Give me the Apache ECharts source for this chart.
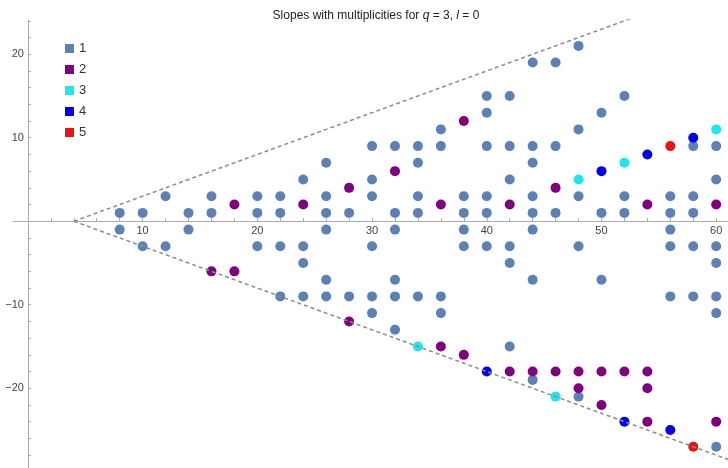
<!DOCTYPE html>
<html><head><meta charset="utf-8">
<script src="https://cdn.jsdelivr.net/npm/echarts@6/dist/echarts.min.js"></script>
<style>html,body{margin:0;padding:0;background:#fff}#c{width:728px;height:468px}</style>
</head><body><div id="c"></div>
<script>
// multiplicity 1
const mult1 = [
  [8,1],[8,-1],[10,1],[10,-3],[12,3],[12,-3],[14,1],[14,-1],[16,3],[16,1],
  [20,3],[20,1],[20,-3],[22,3],[22,1],[22,-3],[22,-9],
  [24,5],[24,-3],[24,-5],[24,-9],
  [26,7],[26,3],[26,1],[26,-1],[26,-7],[26,-9],
  [28,1],[28,-9],
  [30,9],[30,5],[30,3],[30,-3],[30,-9],[30,-11],
  [32,9],[32,1],[32,-1],[32,-7],[32,-9],[32,-13],
  [34,9],[34,7],[34,3],[34,1],[34,-9],
  [36,11],[36,9],[36,-9],[36,-11],
  [38,3],[38,1],[38,-1],[38,-3],
  [40,15],[40,13],[40,9],[40,3],[40,1],[40,-3],
  [42,15],[42,9],[42,5],[42,-3],[42,-5],[42,-15],
  [44,19],[44,9],[44,7],[44,3],[44,1],[44,-1],[44,-7],[44,-19],
  [46,19],[46,9],[46,1],
  [48,21],[48,11],[48,3],[48,-3],[48,-21],
  [50,13],[50,1],[50,-7],
  [52,15],[52,3],[52,1],
  [56,3],[56,1],[56,-1],[56,-3],[56,-9],
  [58,9],[58,3],[58,1],[58,-3],[58,-9],
  [60,9],[60,5],[60,-3],[60,-5],[60,-9],[60,-11],[60,-27]
];
// multiplicity 2
const mult2 = [
  [16,-6],[18,2],[18,-6],[24,2],[28,4],[28,-12],[32,6],[36,2],[36,-15],
  [38,12],[38,-16],[42,2],[42,-18],[44,-18],[46,4],[46,-18],[48,-18],[48,-20],
  [50,-18],[50,-22],[52,-18],[54,2],[54,-18],[54,-20],[54,-24],[60,2],[60,-24]
];
// multiplicity 3
const mult3 = [[34,-15],[46,-21],[48,5],[52,7],[60,11]];
// multiplicity 4
const mult4 = [[40,-18],[50,6],[52,-24],[54,8],[56,-25],[58,10]];
// multiplicity 5
const mult5 = [[56,9],[58,-27]];

const seriesNames = ['1','2','3','4','5'];
const seriesColors = ['#5e81b5','#800080','#1ee6ee','#0000ee','#ee1111'];
const xTickLabels = [10,20,30,40,50,60];
const yTickLabels = [-20,-10,10,20];
const xMinorTicks = [2,4,6,8,10,12,14,16,18,20,22,24,26,28,30,32,34,36,38,40,42,44,46,48,50,52,54,56,58,60];
const yMinorTicks = [-28,-26,-24,-22,-20,-18,-16,-14,-12,-10,-8,-6,-4,-2,2,4,6,8,10,12,14,16,18,20,22,24];
// boundary lines y = ±(x - 4)/2
const boundaryVertex = [4,0];
const boundaryEndX = 62;
const boundarySlope = 0.5;

const allSets = [mult1, mult2, mult3, mult4, mult5];
const upper = [boundaryVertex, [boundaryEndX, boundarySlope*(boundaryEndX-boundaryVertex[0])]];
const lower = [boundaryVertex, [boundaryEndX, -boundarySlope*(boundaryEndX-boundaryVertex[0])]];

// plot geometry
const G = {left:13, top:20, width:715, height:448};
const X = {min:-1.3, max:61.03};
const Y = {min:-29.55, max:24.1};
// shift axes so they cross at the origin (whole axis incl. labels)
const xAxisOffset = -(G.height * (0 - Y.min) / (Y.max - Y.min));
const yAxisOffset = -(G.width * (0 - X.min) / (X.max - X.min));
const minusFmt = v => String(v).replace('-', '\u2212');

const chart = echarts.init(document.getElementById('c'), null, {renderer:'canvas'});
const series = allSets.map((d,i)=>({
  name: seriesNames[i], type:'scatter', data:d, symbolSize:10,
  itemStyle:{color:seriesColors[i], opacity:1}, z:2
}));
[upper, lower].forEach(d=>series.push({
  name:'bound', type:'line', data:d, symbol:'none', silent:true, z:3,
  lineStyle:{color:'#8c8c8c', width:1.5, type:[4,3]}
}));

chart.setOption({
  animation:false,
  backgroundColor:'#fff',
  title:{
    left:371, top:5, textAlign:'center',
    text:'{a|Slopes with multiplicities for }{i|q}{a| = 3, }{i|l}{a| = 0}',
    textStyle:{fontWeight:'normal', rich:{
      a:{fontFamily:'Liberation Sans', fontSize:12, fontWeight:'normal', color:'#222'},
      i:{fontFamily:'Liberation Sans', fontSize:12, fontWeight:'normal', fontStyle:'italic', color:'#222'}
    }}
  },
  legend:{
    data:seriesNames, orient:'vertical', left:60, top:36, icon:'rect',
    itemWidth:9, itemHeight:9, itemGap:6,
    textStyle:{fontFamily:'Liberation Sans', fontSize:13, color:'#333', lineHeight:15}
  },
  grid:{left:G.left, top:G.top, width:G.width, height:G.height, containLabel:false, outerBoundsMode:'none'},
  xAxis:{
    type:'value', min:X.min, max:X.max, position:'bottom', offset:xAxisOffset,
    axisLine:{onZero:false, lineStyle:{color:'#aaa', width:1}},
    axisTick:{show:true, inside:true, length:3, customValues:xMinorTicks, lineStyle:{color:'#aaa'}},
    axisLabel:{customValues:xTickLabels, margin:4, fontFamily:'Liberation Sans', fontSize:11, color:'#444', formatter:minusFmt},
    splitLine:{show:false}
  },
  yAxis:{
    type:'value', min:Y.min, max:Y.max, position:'left', offset:yAxisOffset,
    axisLine:{onZero:false, lineStyle:{color:'#aaa', width:1}},
    axisTick:{show:true, inside:true, length:3, customValues:yMinorTicks, lineStyle:{color:'#aaa'}},
    axisLabel:{customValues:yTickLabels, margin:4, fontFamily:'Liberation Sans', fontSize:11, color:'#444', formatter:minusFmt},
    splitLine:{show:false}
  },
  series:series
});
</script></body></html>
